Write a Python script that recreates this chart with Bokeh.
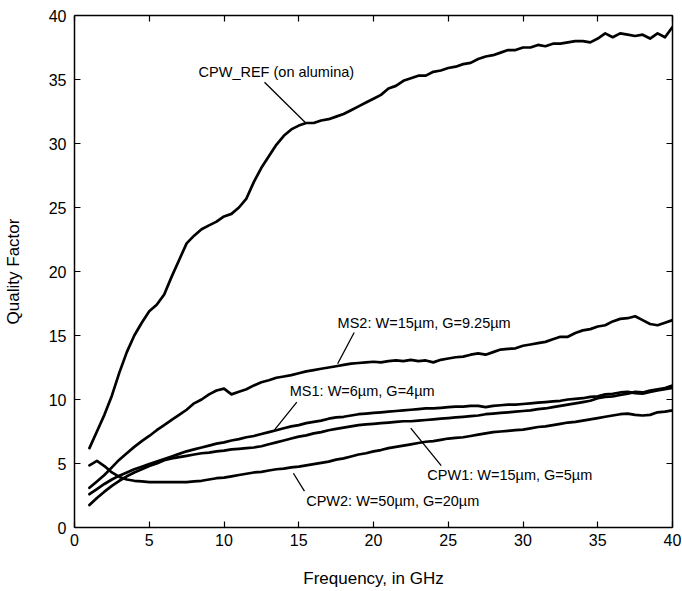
from bokeh.plotting import figure
from bokeh.models import ColumnDataSource, LinearAxis, FixedTicker
from bokeh.core.properties import value
from bokeh.embed import file_html
from bokeh.resources import INLINE

freq = [1.0, 1.5, 2.0, 2.5, 3.0, 3.5, 4.0, 4.5, 5.0, 5.5, 6.0, 6.5, 7.0, 7.5, 8.0, 8.5,
        9.0, 9.5, 10.0, 10.5, 11.0, 11.5, 12.0, 12.5, 13.0, 13.5, 14.0, 14.5, 15.0, 15.5,
        16.0, 16.5, 17.0, 17.5, 18.0, 18.5, 19.0, 19.5, 20.0, 20.5, 21.0, 21.5, 22.0, 22.5,
        23.0, 23.5, 24.0, 24.5, 25.0, 25.5, 26.0, 26.5, 27.0, 27.5, 28.0, 28.5, 29.0, 29.5,
        30.0, 30.5, 31.0, 31.5, 32.0, 32.5, 33.0, 33.5, 34.0, 34.5, 35.0, 35.5, 36.0, 36.5,
        37.0, 37.5, 38.0, 38.5, 39.0, 39.5, 40.0]

q_cpw_ref = [6.2, 7.5, 8.8, 10.3, 12.1, 13.7, 15.0, 16.0, 16.9, 17.4, 18.2, 19.6, 20.9, 22.2, 22.8, 23.3,
             23.6, 23.9, 24.3, 24.5, 25.0, 25.7, 27.0, 28.1, 29.0, 29.9, 30.6, 31.1, 31.4, 31.6,
             31.6, 31.8, 31.9, 32.1, 32.3, 32.6, 32.9, 33.2, 33.5, 33.8, 34.3, 34.5, 34.9, 35.1,
             35.3, 35.3, 35.6, 35.7, 35.9, 36.0, 36.2, 36.3, 36.6, 36.8, 36.9, 37.1, 37.3, 37.3,
             37.5, 37.5, 37.7, 37.6, 37.8, 37.8, 37.9, 38.0, 38.0, 37.9, 38.2, 38.6, 38.3, 38.6,
             38.5, 38.4, 38.5, 38.2, 38.6, 38.3, 39.1]

q_ms2 = [3.1, 3.6, 4.1, 4.7, 5.3, 5.8, 6.3, 6.75, 7.15, 7.6, 8.0, 8.4, 8.8, 9.2, 9.7, 10.0,
         10.4, 10.7, 10.85, 10.4, 10.6, 10.8, 11.1, 11.35, 11.5, 11.7, 11.8, 11.9, 12.05, 12.2,
         12.3, 12.4, 12.5, 12.6, 12.7, 12.8, 12.85, 12.9, 12.95, 12.9, 13.0, 13.05, 13.0, 13.1,
         13.0, 13.05, 12.9, 13.1, 13.2, 13.3, 13.35, 13.5, 13.6, 13.5, 13.7, 13.9, 13.95, 14.0,
         14.2, 14.3, 14.4, 14.5, 14.7, 14.9, 14.9, 15.2, 15.4, 15.5, 15.7, 15.8, 16.1, 16.3,
         16.35, 16.5, 16.2, 15.9, 15.8, 16.0, 16.2]

q_ms1 = [2.6, 3.0, 3.4, 3.75, 4.05, 4.3, 4.55, 4.75, 4.95, 5.15, 5.35, 5.55, 5.75, 5.95, 6.1, 6.25,
         6.4, 6.55, 6.65, 6.8, 6.9, 7.05, 7.15, 7.3, 7.45, 7.6, 7.75, 7.9, 8.0, 8.15,
         8.25, 8.35, 8.5, 8.6, 8.65, 8.75, 8.85, 8.9, 8.95, 9.0, 9.05, 9.1, 9.15, 9.2,
         9.25, 9.3, 9.3, 9.35, 9.4, 9.45, 9.45, 9.5, 9.5, 9.4, 9.5, 9.55, 9.6, 9.6,
         9.65, 9.7, 9.75, 9.8, 9.85, 9.9, 10.0, 10.05, 10.1, 10.2, 10.25, 10.4, 10.45, 10.55,
         10.6, 10.5, 10.45, 10.6, 10.7, 10.8, 10.9]

q_cpw1 = [1.75, 2.3, 2.8, 3.25, 3.65, 4.0, 4.3, 4.55, 4.8, 5.0, 5.25, 5.4, 5.5, 5.6, 5.7, 5.8,
          5.85, 5.95, 6.0, 6.1, 6.15, 6.2, 6.25, 6.35, 6.5, 6.65, 6.8, 6.95, 7.1, 7.2,
          7.35, 7.45, 7.6, 7.7, 7.8, 7.9, 8.0, 8.05, 8.1, 8.15, 8.2, 8.25, 8.3, 8.3,
          8.35, 8.4, 8.45, 8.5, 8.55, 8.6, 8.65, 8.7, 8.75, 8.85, 8.9, 8.95, 9.0, 9.05,
          9.1, 9.15, 9.25, 9.3, 9.4, 9.5, 9.6, 9.7, 9.8, 9.9, 10.1, 10.2, 10.25, 10.35,
          10.45, 10.6, 10.55, 10.7, 10.8, 10.9, 11.1]

q_cpw2 = [4.85, 5.2, 4.8, 4.3, 3.95, 3.75, 3.65, 3.6, 3.55, 3.55, 3.55, 3.55, 3.55, 3.55, 3.6, 3.65,
          3.75, 3.85, 3.9, 4.0, 4.1, 4.2, 4.3, 4.35, 4.45, 4.55, 4.6, 4.7, 4.75, 4.85,
          4.95, 5.05, 5.15, 5.3, 5.4, 5.55, 5.7, 5.8, 5.95, 6.05, 6.2, 6.3, 6.4, 6.5,
          6.6, 6.7, 6.75, 6.85, 6.95, 7.0, 7.05, 7.15, 7.25, 7.35, 7.45, 7.5, 7.55, 7.6,
          7.65, 7.75, 7.85, 7.9, 8.0, 8.1, 8.2, 8.25, 8.35, 8.45, 8.55, 8.65, 8.75, 8.85,
          8.9, 8.8, 8.75, 8.8, 9.0, 9.05, 9.15]

label_text = ["CPW_REF (on alumina)", "MS2: W=15\u00b5m, G=9.25\u00b5m", "MS1: W=6\u00b5m, G=4\u00b5m",
              "CPW1: W=15\u00b5m, G=5\u00b5m", "CPW2: W=50\u00b5m, G=20\u00b5m"]
label_x = [8.3, 17.6, 14.4, 23.6, 15.5]
label_y = [35.55, 15.96, 10.63, 4.12, 2.06]
ptr_x0 = [12.71, 18.71, 14.87, 22.49, 14.64]
ptr_y0 = [34.79, 15.23, 9.79, 7.76, 4.24]
ptr_x1 = [15.42, 17.60, 13.38, 24.53, 15.38]
ptr_y1 = [31.66, 12.79, 7.63, 4.84, 2.84]

x_ticks = [0, 5, 10, 15, 20, 25, 30, 35, 40]
y_ticks = [0, 5, 10, 15, 20, 25, 30, 35, 40]

FONT = "Liberation Sans"

p = figure(width=682, height=591, x_range=(0, 40), y_range=(0, 40),
           output_backend="svg", toolbar_location=None,
           min_border_left=72, min_border_right=10, min_border_top=15, min_border_bottom=64,
           x_axis_label="Frequency, in GHz", y_axis_label="Quality Factor")
p.xgrid.visible = False
p.ygrid.visible = False
p.outline_line_color = None
p.background_fill_color = "white"
p.border_fill_color = "white"

for ax in (p.xaxis[0], p.yaxis[0]):
    ax.axis_line_width = 1.5
    ax.axis_line_color = "black"
    ax.major_tick_in = 6
    ax.major_tick_out = 0
    ax.major_tick_line_width = 1.2
    ax.minor_tick_line_color = None
    ax.major_label_text_font = FONT
    ax.major_label_text_font_size = "16px"
    ax.major_label_text_color = "black"
    ax.axis_label_text_font = FONT
    ax.axis_label_text_font_size = "17px"
    ax.axis_label_text_font_style = "normal"
    ax.axis_label_text_color = "black"

p.xaxis[0].ticker = FixedTicker(ticks=x_ticks)
p.yaxis[0].ticker = FixedTicker(ticks=y_ticks)
p.xaxis[0].major_label_standoff = 6
p.yaxis[0].major_label_standoff = 8
p.xaxis[0].axis_label_standoff = 20
p.yaxis[0].axis_label_standoff = 23

for loc, tk in (("above", x_ticks), ("right", y_ticks)):
    ax = LinearAxis(ticker=FixedTicker(ticks=tk))
    ax.axis_line_width = 1.5
    ax.axis_line_color = "black"
    ax.major_tick_in = 6
    ax.major_tick_out = 0
    ax.major_tick_line_width = 1.2
    ax.minor_tick_line_color = None
    ax.major_label_text_font_size = "0px"
    ax.major_label_text_color = None
    ax.major_label_standoff = 0
    p.add_layout(ax, loc)

for q in (q_cpw_ref, q_ms2, q_ms1, q_cpw1, q_cpw2):
    p.line(freq, q, line_color="black", line_width=2.7, line_join="round", line_cap="round")

p.segment(x0=ptr_x0, y0=ptr_y0, x1=ptr_x1, y1=ptr_y1, line_color="black", line_width=1.3)

src = ColumnDataSource(dict(x=label_x, y=label_y, t=label_text))
p.text(x="x", y="y", text="t", source=src, text_font=value(FONT), text_font_size=value("14.5px"),
       text_align="left", text_baseline="middle", text_color="black")

open("out.html", "w").write(file_html(p, INLINE))
